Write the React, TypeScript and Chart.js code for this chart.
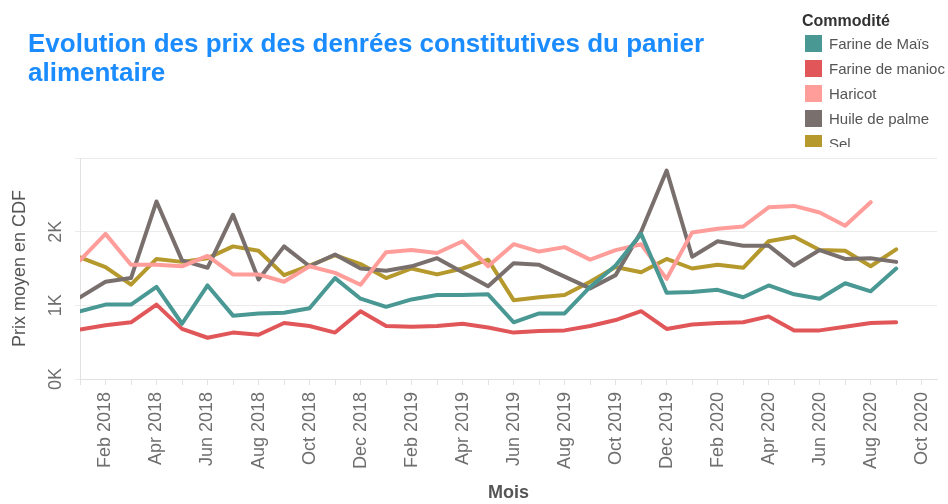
import React, { useEffect, useRef } from 'react';
import { Chart, registerables } from 'chart.js';

Chart.register(...registerables);

const TITLE_LINES = ['Evolution des prix des denrées constitutives du panier', 'alimentaire'];
const LEGEND_TITLE = 'Commodité';
const X_TITLE = 'Mois';
const Y_TITLE = 'Prix moyen en CDF';

const MONTHS = [
  'Jan 2018', 'Feb 2018', 'Mar 2018', 'Apr 2018', 'May 2018', 'Jun 2018',
  'Jul 2018', 'Aug 2018', 'Sep 2018', 'Oct 2018', 'Nov 2018', 'Dec 2018',
  'Jan 2019', 'Feb 2019', 'Mar 2019', 'Apr 2019', 'May 2019', 'Jun 2019',
  'Jul 2019', 'Aug 2019', 'Sep 2019', 'Oct 2019', 'Nov 2019', 'Dec 2019',
  'Jan 2020', 'Feb 2020', 'Mar 2020', 'Apr 2020', 'May 2020', 'Jun 2020',
  'Jul 2020', 'Aug 2020', 'Sep 2020', 'Oct 2020',
];

const SERIES_NAMES = ['Farine de Maïs', 'Farine de manioc', 'Haricot', 'Huile de palme', 'Sel'];
const SERIES_COLORS = ['#499894', '#e15759', '#ff9d9a', '#79706e', '#b6992d'];

const farineMais = [
  920, 1010, 1010, 1250, 750, 1270, 860, 890, 900, 960, 1370, 1090,
  980, 1080, 1140, 1140, 1150, 770, 890, 890, 1250, 1540, 1970, 1170,
  1180, 1210, 1110, 1270, 1150, 1090, 1300, 1190, 1500,
];
const farineManioc = [
  670, 730, 770, 1010, 680, 560, 630, 600, 760, 720, 630, 920,
  720, 710, 720, 750, 700, 630, 650, 660, 720, 800, 920, 680,
  740, 760, 770, 850, 660, 660, 710, 760, 770,
];
const haricot = [
  1610, 1970, 1550, 1550, 1530, 1670, 1420, 1420, 1320, 1530, 1440, 1280,
  1720, 1750, 1710, 1870, 1530, 1830, 1730, 1790, 1620, 1750, 1830, 1360,
  1990, 2040, 2070, 2330, 2350, 2260, 2080, 2400, null,
];
const huilePalme = [
  1110, 1320, 1370, 2410, 1610, 1510, 2230, 1350, 1800, 1530, 1690, 1500,
  1470, 1530, 1640, 1450, 1260, 1570, 1550, 1390, 1230, 1410, 2000, 2830,
  1660, 1870, 1810, 1810, 1540, 1750, 1630, 1640, 1590,
];
const sel = [
  1650, 1520, 1280, 1630, 1590, 1640, 1800, 1740, 1410, 1540, 1680, 1560,
  1370, 1500, 1420, 1500, 1620, 1070, 1110, 1140, 1320, 1520, 1450, 1630,
  1500, 1550, 1510, 1870, 1930, 1750, 1740, 1530, 1760,
];

const SERIES_VALUES = [farineMais, farineManioc, haricot, huilePalme, sel];

const FONT = '"Liberation Sans", Arial, sans-serif';

export default function App() {
  const canvasRef = useRef<HTMLCanvasElement>(null);

  useEffect(() => {
    const canvas = canvasRef.current;
    if (!canvas) return;
    const chart = new Chart(canvas, {
      type: 'line',
      data: {
        datasets: SERIES_NAMES.map((name, s) => ({
          label: name,
          data: SERIES_VALUES[s].map((v, i) => ({ x: i, y: v })),
          borderColor: SERIES_COLORS[s],
          backgroundColor: SERIES_COLORS[s],
          borderWidth: 4,
          pointRadius: 0,
          tension: 0,
          fill: false,
          borderJoinStyle: 'round',
          borderCapStyle: 'round',
        })),
      },
      options: {
        animation: false,
        responsive: false,
        maintainAspectRatio: false,
        layout: { padding: { top: 158, right: 11, left: 0, bottom: 0 } },
        plugins: {
          legend: { display: false },
          tooltip: { enabled: false },
        },
        scales: {
          x: {
            type: 'linear',
            min: 0,
            max: 33.6,
            afterFit: (s: any) => {
              s.height = 125;
              s.paddingLeft = 0;
              s.paddingRight = 0;
            },
            grid: { drawOnChartArea: false, drawTicks: true, tickLength: 6, color: '#e2e2e2' },
            border: { display: true, color: '#e2e2e2' },
            ticks: {
              stepSize: 1,
              includeBounds: false,
              autoSkip: false,
              minRotation: 90,
              maxRotation: 90,
              padding: 7,
              color: '#6e6e6e',
              font: { family: FONT, size: 18 },
              callback: (v: any) => (Number.isInteger(v) && v % 2 === 1 ? MONTHS[v] : ''),
            },
            title: {
              display: true,
              text: X_TITLE,
              color: '#555555',
              font: { family: FONT, size: 18, weight: 'bold' },
              padding: { top: 0, bottom: 0 },
            },
          },
          y: {
            min: 0,
            max: 3000,
            afterFit: (s: any) => {
              s.width = 80;
              s.paddingTop = 0;
              s.paddingBottom = 0;
            },
            grid: { color: '#ebebeb', drawTicks: true, tickLength: 5 },
            border: { display: true, color: '#e2e2e2' },
            ticks: {
              stepSize: 1000,
              minRotation: 90,
              maxRotation: 90,
              crossAlign: 'center',
              padding: 8,
              color: '#6e6e6e',
              font: { family: FONT, size: 18 },
              callback: (v: any) => (v >= 3000 ? '' : `${v / 1000}K`),
            },
            title: {
              display: true,
              text: Y_TITLE,
              color: '#555555',
              font: { family: FONT, size: 18 },
              padding: { top: 9, bottom: 0 },
            },
          },
        },
      },
    } as any);
    return () => chart.destroy();
  }, []);

  return (
    <div
      style={{
        position: 'absolute',
        left: 0,
        top: 0,
        width: 948,
        height: 504,
        background: '#ffffff',
        overflow: 'hidden',
        fontFamily: FONT,
      }}
    >
      <canvas ref={canvasRef} width={948} height={504} style={{ position: 'absolute', left: 0, top: 0, width: 948, height: 504 }} />
      <div
        style={{
          position: 'absolute',
          left: 28,
          top: 29,
          fontSize: 26,
          lineHeight: '29px',
          fontWeight: 'bold',
          color: '#1a8cff',
          whiteSpace: 'nowrap',
        }}
      >
        {TITLE_LINES.map((t) => (
          <div key={t}>{t}</div>
        ))}
      </div>
      <div
        style={{
          position: 'absolute',
          left: 802,
          top: 12,
          fontSize: 16,
          lineHeight: '17px',
          fontWeight: 'bold',
          color: '#333333',
        }}
      >
        {LEGEND_TITLE}
      </div>
      <div style={{ position: 'absolute', left: 805, top: 31, width: 143, height: 116, overflow: 'hidden' }}>
        {SERIES_NAMES.map((name, i) => (
          <div key={name} style={{ display: 'flex', alignItems: 'center', height: 25 }}>
            <div style={{ width: 17, height: 17, background: SERIES_COLORS[i], flex: '0 0 auto' }} />
            <div style={{ marginLeft: 7, fontSize: 15, color: '#555555', whiteSpace: 'nowrap' }}>{name}</div>
          </div>
        ))}
      </div>
    </div>
  );
}
